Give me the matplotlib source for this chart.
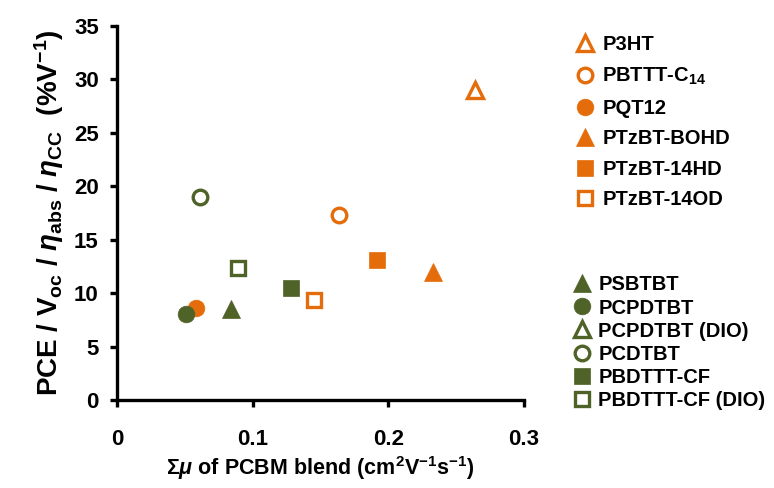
import matplotlib
matplotlib.use("Agg")
import matplotlib.pyplot as plt
from matplotlib.lines import Line2D

plt.rcParams['font.family'] = ['Liberation Sans', 'DejaVu Sans']
plt.rcParams['font.weight'] = 'bold'
plt.rcParams['mathtext.fontset'] = 'custom'
plt.rcParams['mathtext.rm'] = 'Liberation Sans:bold'
plt.rcParams['mathtext.it'] = 'Liberation Sans:bold:italic'
plt.rcParams['mathtext.bf'] = 'Liberation Sans:bold'

ORANGE = '#E46C0A'
GREEN = '#4F6228'

# orange polymers
orange_names = ['P3HT', 'PBTTT-C$_{14}$', 'PQT12', 'PTzBT-BOHD', 'PTzBT-14HD', 'PTzBT-14OD']
orange_x = [0.264, 0.164, 0.058, 0.233, 0.192, 0.145]
orange_y = [29.0, 17.3, 8.6, 12.0, 13.1, 9.35]

# green polymers (PCPDTBT (DIO) has no visible point)
green_names = ['PSBTBT', 'PCPDTBT', 'PCPDTBT (DIO)', 'PCDTBT', 'PBDTTT-CF', 'PBDTTT-CF (DIO)']
green_x = [0.084, 0.051, None, 0.061, 0.128, 0.089]
green_y = [8.5, 8.1, None, 19.0, 10.5, 12.4]

markers = ['^', 'o', 'o', '^', 's', 's']
green_markers = ['^', 'o', '^', 'o', 's', 's']
orange_filled = [False, False, True, True, True, False]
green_filled = [True, True, False, False, True, False]

fig = plt.figure(figsize=(7.74, 4.88), dpi=100)
ax = fig.add_axes([0.151, 0.180, 0.526, 0.767])

def style(m, color, filled):
    size = {'^': 13, 'o': 12, 's': 11.5}[m]
    if filled:
        return dict(marker=m, markersize=size, markerfacecolor=color,
                    markeredgecolor=color, markeredgewidth=0.5, linestyle='none')
    return dict(marker=m, markersize=size - 1.5, markerfacecolor='white',
                markeredgecolor=color, markeredgewidth=2.4, linestyle='none')

orange_handles = []
for name, x, y, m, f in zip(orange_names, orange_x, orange_y, markers, orange_filled):
    st = style(m, ORANGE, f)
    ax.plot([x], [y], zorder=3 if f else 4, **st)
    orange_handles.append(Line2D([], [], label=name, **st))

green_handles = []
for name, x, y, m, f in zip(green_names, green_x, green_y, green_markers, green_filled):
    st = style(m, GREEN, f)
    if x is not None:
        ax.plot([x], [y], zorder=5, **st)
    green_handles.append(Line2D([], [], label=name, **st))

ax.set_xlim(0, 0.3)
ax.set_ylim(0, 35)
ax.set_xticks([0, 0.1, 0.2, 0.3])
ax.set_xticklabels(['0', '0.1', '0.2', '0.3'])
ax.set_yticks(range(0, 36, 5))
for s in ['top', 'right']:
    ax.spines[s].set_visible(False)
for s in ['left', 'bottom']:
    ax.spines[s].set_linewidth(2.4)
ax.tick_params(width=2.4, length=5, labelsize=16, pad=8)
ax.tick_params(axis='x', pad=16)
for lab in ax.get_xticklabels() + ax.get_yticklabels():
    lab.set_fontweight('bold')

ax.set_xlabel(r'$\Sigma\mathit{\mu}$ of PCBM blend (cm$^{2}$V$^{-1}$s$^{-1}$)',
              fontsize=15.5, fontweight='bold', labelpad=3)
ax.set_ylabel(r'PCE / V$_{\mathrm{oc}}$ / $\mathit{\eta}_{\mathrm{abs}}$ / $\mathit{\eta}_{\mathrm{CC}}$  (%V$^{-1}$)',
              fontsize=20, fontweight='bold', labelpad=6)

leg1 = fig.legend(handles=orange_handles, loc='upper left', bbox_to_anchor=(0.743, 0.9275),
                  frameon=False, prop={'weight': 'bold', 'size': 14.5}, borderaxespad=0,
                  handlelength=1.0, handletextpad=0.35, labelspacing=0.57, borderpad=0)
leg2 = fig.legend(handles=green_handles, loc='upper left', bbox_to_anchor=(0.739, 0.4355),
                  frameon=False, prop={'weight': 'bold', 'size': 14.5}, borderaxespad=0,
                  handlelength=1.0, handletextpad=0.3, labelspacing=0.2, borderpad=0)

fig.savefig('out.png', dpi=100)
